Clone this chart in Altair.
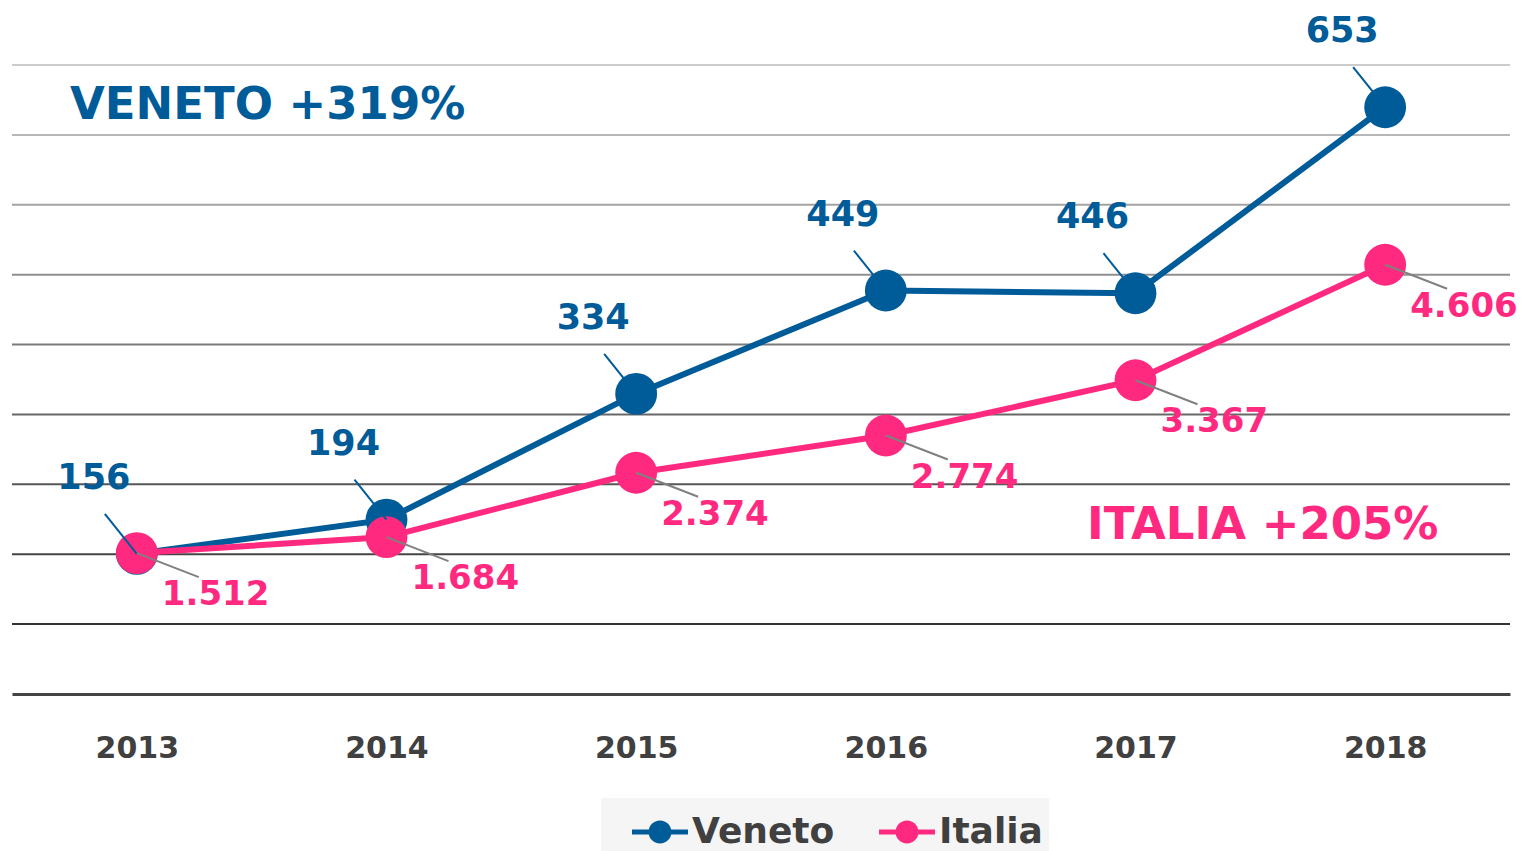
import altair as alt
import pandas as pd

years = ["2013", "2014", "2015", "2016", "2017", "2018"]
veneto = [156, 194, 334, 449, 446, 653]
italia = [1512, 1684, 2374, 2774, 3367, 4606]
series = ["Veneto", "Italia"]
grid_vals = [700 / 9 * k for k in range(1, 10)]

BLUE = "#005B99"
PINK = "#FF2A7F"
FONT = "DejaVu Sans"

def fmt(v):
    return f"{v:,}".replace(",", ".")

dv = pd.DataFrame({"year": years, "value": veneto, "serie": "Veneto",
                   "label": [str(v) for v in veneto]})
di = pd.DataFrame({"year": years, "value": italia, "serie": "Italia",
                   "label": [fmt(v) for v in italia]})
dg = pd.DataFrame({"g": grid_vals})

x_enc = alt.X("year:O", scale=alt.Scale(type="point", padding=0.5),
              axis=alt.Axis(title=None, ticks=False, domain=True, domainColor="#444444",
                            domainWidth=3, labelFont=FONT, labelFontWeight="bold",
                            labelFontSize=30, labelColor="#404040", labelPadding=39,
                            labelAngle=0, grid=False))
yv = alt.Y("value:Q", scale=alt.Scale(domain=[0, 700], nice=False, zero=True), axis=None)
yi = alt.Y("value:Q", scale=alt.Scale(domain=[0, 6750], nice=False, zero=True), axis=None)

path = ("M-1,-0.09L1,-0.09L1,0.09L-1,0.09Z"
        "M-0.41,0A0.41,0.41,0,1,1,0.41,0A0.41,0.41,0,1,1,-0.41,0Z")

color_enc = alt.Color("serie:N", scale=alt.Scale(domain=series, range=[BLUE, PINK]),
                      legend=alt.Legend(orient="none", legendX=589, legendY=733,
                                        direction="horizontal", title=None,
                                        symbolType=path, symbolSize=3136,
                                        symbolStrokeWidth=0, symbolOpacity=1,
                                        symbolOffset=25,
                                        labelFont=FONT, labelFontWeight="bold",
                                        labelFontSize=36, labelColor="#404040",
                                        labelOffset=4, labelLimit=500,
                                        columnPadding=19, fillColor="#f5f5f5",
                                        padding=6))

grid = alt.Chart(dg).mark_rule(strokeWidth=2).encode(
    y=alt.Y("g:Q", scale=alt.Scale(domain=[0, 700], nice=False), axis=None),
    stroke=alt.Stroke("g:Q", scale=alt.Scale(domain=[grid_vals[0], grid_vals[-1]],
                                             range=["#333333", "#cccccc"]), legend=None),
)
axis_layer = alt.Chart(dv).mark_point(opacity=0).encode(x=x_enc, y=yv)

v_line = alt.Chart(dv).mark_line(color=BLUE, strokeWidth=6).encode(x=x_enc, y=yv)
v_pt = alt.Chart(dv).mark_point(filled=True, size=1750, opacity=1, shape="circle").encode(
    x=x_enc, y=yv, color=color_enc)
i_line = alt.Chart(di).mark_line(color=PINK, strokeWidth=6).encode(x=x_enc, y=yi)
i_pt = alt.Chart(di).mark_point(filled=True, size=1750, opacity=1, shape="circle").encode(
    x=x_enc, y=yi, color=color_enc)

v_lead = alt.Chart(dv).mark_rule(color=BLUE, strokeWidth=2, x2Offset=-32, y2Offset=-40).encode(
    x=x_enc, y=yv, x2="year:O", y2="value:Q")
i_lead = alt.Chart(di).mark_rule(color="#808080", strokeWidth=2, x2Offset=62, y2Offset=24).encode(
    x=x_enc, y=yi, x2="year:O", y2="value:Q")

v_lab = alt.Chart(dv).mark_text(font=FONT, fontWeight="bold", fontSize=35, color=BLUE,
                                dx=-43, dy=-76, baseline="middle", align="center").encode(
    x=x_enc, y=yv, text="label:N")
i_lab = alt.Chart(di).mark_text(font=FONT, fontWeight="bold", fontSize=34, color=PINK,
                                dx=25, dy=42, baseline="middle", align="left").encode(
    x=x_enc, y=yi, text="label:N")

ann = pd.DataFrame({"t": ["VENETO +319%", "ITALIA +205%"]})
a_v = alt.Chart(ann).transform_filter("datum.t == 'VENETO +319%'").mark_text(
    font=FONT, fontWeight="bold", fontSize=45, color=BLUE, align="left", baseline="middle"
).encode(x=alt.value(58), y=alt.value(40), text="t:N")
a_i = alt.Chart(ann).transform_filter("datum.t == 'ITALIA +205%'").mark_text(
    font=FONT, fontWeight="bold", fontSize=45, color=PINK, align="left", baseline="middle"
).encode(x=alt.value(1075), y=alt.value(460), text="t:N")

chart = alt.layer(
    grid, axis_layer, v_line, v_pt, i_line, i_pt, v_lead, i_lead, v_lab, i_lab, a_v, a_i
).resolve_scale(y="independent", stroke="independent").properties(
    width=1498, height=629,
    background="white",
    autosize=alt.AutoSizeParams(type="none"),
    padding={"left": 12, "top": 65, "right": 11, "bottom": 157},
).configure_view(strokeWidth=0, stroke="transparent")

chart.save("out.html", embed_options={"renderer": "svg", "actions": False})
